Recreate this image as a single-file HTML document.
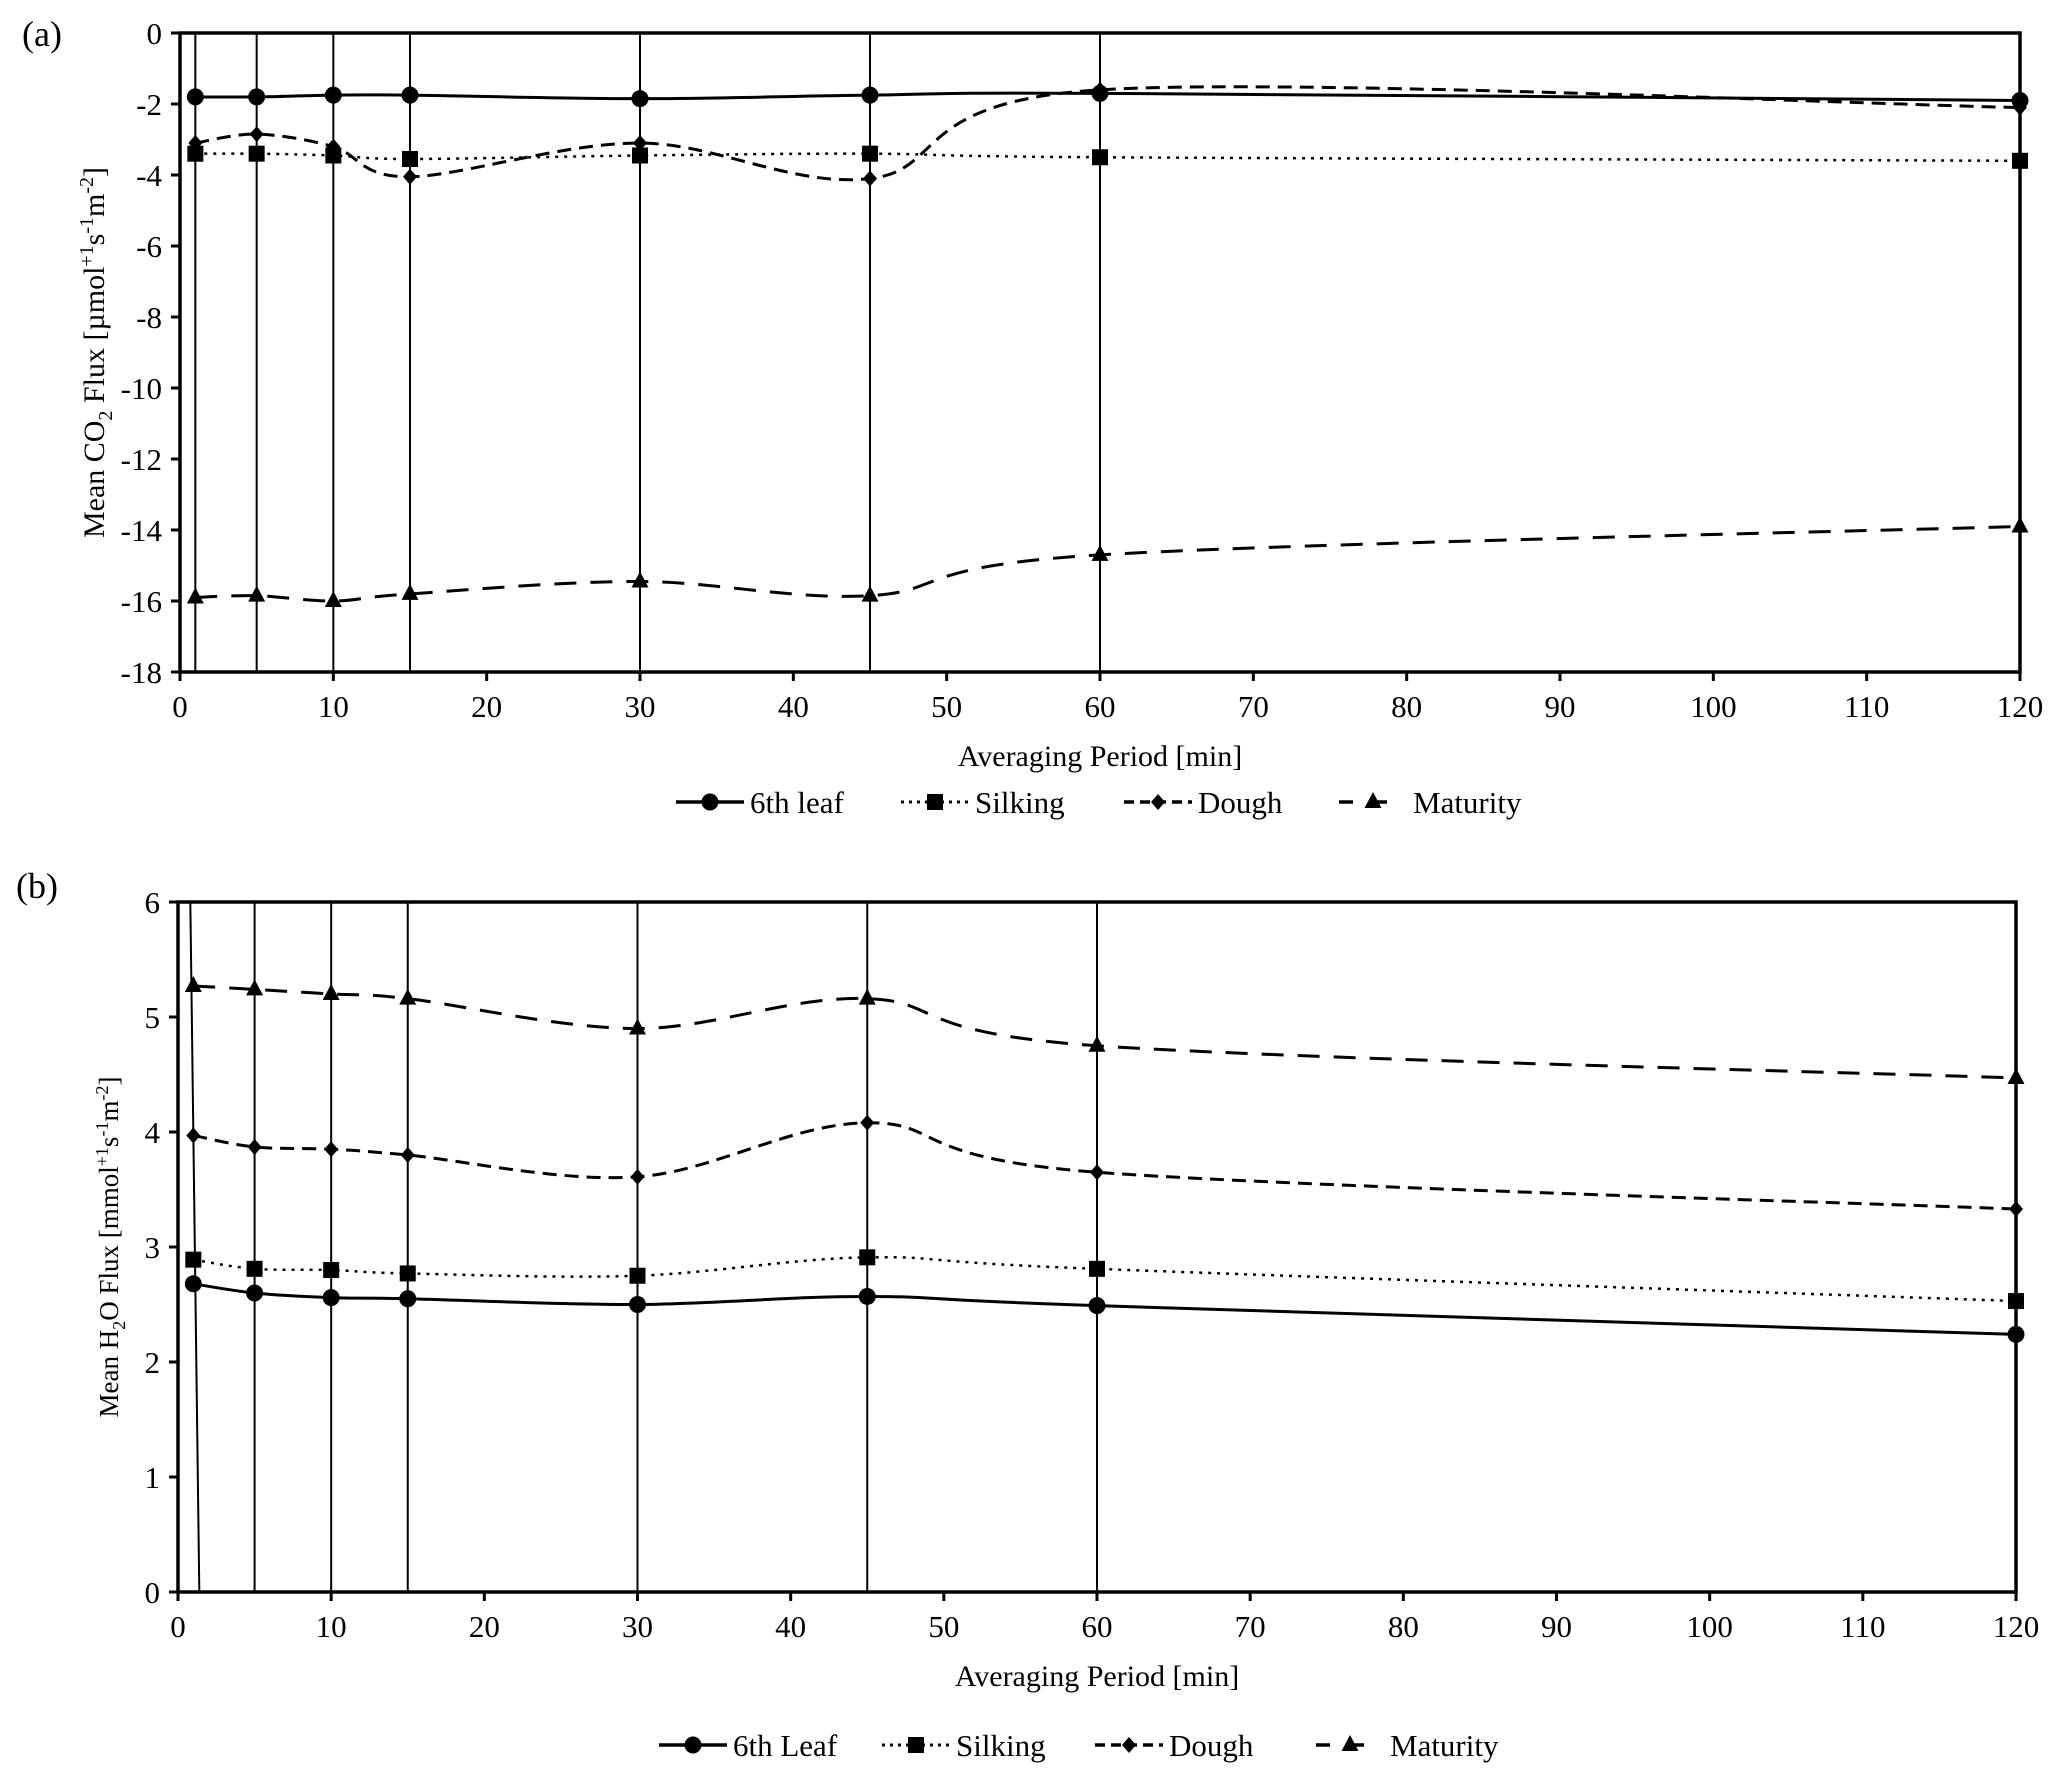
<!DOCTYPE html>
<html><head><meta charset="utf-8">
<style>
html,body{margin:0;padding:0;background:#fff;}
svg{display:block;font-family:"Liberation Serif",serif;}
</style></head>
<body>
<svg id="fig" width="2067" height="1783" viewBox="0 0 2067 1783" xmlns="http://www.w3.org/2000/svg">
<text x="22" y="46" font-size="36">(a)</text>
<text x="16" y="898" font-size="36">(b)</text>
<g id="ga"></g>
<g id="gb"></g>
</svg>
<script>
const periods = [1,5,10,15,30,45,60,120];
const seriesNames = ["6th leaf","Silking","Dough","Maturity"];
const seriesNamesB = ["6th Leaf","Silking","Dough","Maturity"];
const co2Leaf = [-1.8,-1.8,-1.75,-1.75,-1.85,-1.75,-1.7,-1.9];
const co2Silking = [-3.4,-3.4,-3.45,-3.55,-3.45,-3.4,-3.5,-3.6];
const co2Dough = [-3.1,-2.85,-3.2,-4.05,-3.1,-4.1,-1.6,-2.1];
const co2Maturity = [-15.9,-15.85,-16.0,-15.8,-15.45,-15.85,-14.7,-13.9];
const h2oLeaf = [2.68,2.6,2.56,2.55,2.5,2.57,2.49,2.24];
const h2oSilking = [2.89,2.81,2.8,2.77,2.75,2.91,2.81,2.53];
const h2oDough = [3.97,3.87,3.85,3.8,3.61,4.08,3.65,3.33];
const h2oMaturity = [5.27,5.24,5.2,5.16,4.9,5.16,4.75,4.47];
const xTicks = [0,10,20,30,40,50,60,70,80,90,100,110,120];
const yTicksA = [0,-2,-4,-6,-8,-10,-12,-14,-16,-18];
const yTicksB = [0,1,2,3,4,5,6];
const errBarX = [1,5,10,15,30,45,60];

const NS="http://www.w3.org/2000/svg";
function mk(tag,attrs,parent){const e=document.createElementNS(NS,tag);for(const k in attrs)e.setAttribute(k,attrs[k]);parent.appendChild(e);return e;}
const styles=[{dash:"none",w:3,m:"circle"},{dash:"3 6",w:2.5,m:"square"},{dash:"14 8",w:3,m:"diamond"},{dash:"22 14",w:3,m:"triangle"}];
function marker(g,m,x,y,s){
  let e;
  if(m==="circle") e=mk("circle",{cx:x,cy:y,r:s*0.85,fill:"#000"},g);
  else if(m==="square") e=mk("rect",{x:x-s*0.8,y:y-s*0.8,width:s*1.6,height:s*1.6,fill:"#000"},g);
  else if(m==="diamond") e=mk("polygon",{points:`${x},${y-s*0.8} ${x+s*0.7},${y} ${x},${y+s*0.8} ${x-s*0.7},${y}`,fill:"#000"},g);
  else e=mk("polygon",{points:`${x},${y-s} ${x+s*0.85},${y+s*0.6} ${x-s*0.85},${y+s*0.6}`,fill:"#000"},g);
  return e;
}
function spline(pts){
  let d=`M${pts[0][0]},${pts[0][1]}`;
  for(let i=0;i<pts.length-1;i++){
    const p0=pts[Math.max(0,i-1)],p1=pts[i],p2=pts[i+1],p3=pts[Math.min(pts.length-1,i+2)];
    const t=0.5/3;
    const c1=[p1[0]+(p2[0]-p0[0])*t,p1[1]+(p2[1]-p0[1])*t];
    const c2=[p2[0]-(p3[0]-p1[0])*t,p2[1]-(p3[1]-p1[1])*t];
    d+=` C${c1[0]},${c1[1]} ${c2[0]},${c2[1]} ${p2[0]},${p2[1]}`;
  }
  return d;
}
function chart(g,cfg){
  const X=v=>cfg.x0+(v-0)/120*(cfg.x1-cfg.x0);
  const Y=v=>cfg.yTop+(cfg.ymax-v)/(cfg.ymax-cfg.ymin)*(cfg.yBot-cfg.yTop);
  errBarX.forEach((v,i)=>{
    const xt=X(v)+(cfg.slant&&i===0?-3:0), xb=X(v)+(cfg.slant&&i===0?6:0);
    const l=mk("line",{x1:xt,y1:cfg.yTop,x2:xb,y2:cfg.yBot,stroke:"#000","stroke-width":2},g);
    
    
  });
  const f=mk("rect",{x:cfg.x0,y:cfg.yTop,width:cfg.x1-cfg.x0,height:cfg.yBot-cfg.yTop,fill:"none",stroke:"#000","stroke-width":3.5},g);
  
  
  xTicks.forEach(v=>{
    mk("line",{x1:X(v),y1:cfg.yBot,x2:X(v),y2:cfg.yBot+9,stroke:"#000","stroke-width":3},g);
    const t=mk("text",{x:X(v),y:cfg.yBot+45,"font-size":31,"text-anchor":"middle"},g);
    t.textContent=v;
    
    
  });
  cfg.yTicks.forEach(v=>{
    mk("line",{x1:cfg.x0-9,y1:Y(v),x2:cfg.x0,y2:Y(v),stroke:"#000","stroke-width":3},g);
    const t=mk("text",{x:cfg.x0-18,y:Y(v)+11,"font-size":31,"text-anchor":"end"},g);
    t.textContent=v;
    
    
  });
  const xt=mk("text",{x:(cfg.x0+cfg.x1)/2,y:cfg.yBot+94,"font-size":30,"text-anchor":"middle"},g);
  xt.textContent="Averaging Period [min]";
  
  
  const yt=mk("text",{x:0,y:0,"font-size":cfg.ytSize,"text-anchor":"middle",transform:`translate(${cfg.ytX},${(cfg.yTop+cfg.yBot)/2}) rotate(-90)`},g);
  yt.innerHTML=cfg.ytHtml;
  
  
  cfg.series.forEach((s,i)=>{
    const st=styles[i];
    const pts=periods.map((p,j)=>[X(p),Y(s[j])]);
    const p=mk("path",{d:spline(pts),fill:"none",stroke:"#000","stroke-width":st.w,"stroke-dasharray":st.dash},g);
    
    
    pts.forEach(q=>{
      const m=marker(g,st.m,q[0],q[1],10);
      
      
    });
  });
  cfg.legend.forEach((L,i)=>{
    const st=styles[i];
    const lg=mk("g",{},g);
    
    
    mk("line",{x1:L[0],y1:cfg.legY,x2:L[0]+68,y2:cfg.legY,stroke:"#000","stroke-width":st.w+0.5,"stroke-dasharray":st.dash==="none"?"none":(i===1?"3 5":(i===2?"10 6":"14 20"))},lg);
    marker(lg,st.m,L[0]+34,cfg.legY,10);
    const t=mk("text",{x:L[0]+74,y:cfg.legY+11,"font-size":31},lg);
    t.textContent=cfg.names[i];
  });
}
chart(document.getElementById('ga'),{x0:180,x1:2020,yTop:33,yBot:672,ymin:-18,ymax:0,yTicks:yTicksA,
  series:[co2Leaf,co2Silking,co2Dough,co2Maturity],names:seriesNames,ytX:104,ytSize:30,
  ytHtml:'Mean CO<tspan font-size="20" dy="8">2</tspan><tspan dy="-8"> Flux [µmol</tspan><tspan font-size="20" dy="-11">+1</tspan><tspan dy="11">s</tspan><tspan font-size="20" dy="-11">-1</tspan><tspan dy="11">m</tspan><tspan font-size="20" dy="-11">-2</tspan><tspan dy="11">]</tspan>',
  legY:802,legend:[[676],[901],[1124],[1339]],slant:false});
chart(document.getElementById('gb'),{x0:178,x1:2016,yTop:902,yBot:1592,ymin:0,ymax:6,yTicks:yTicksB,
  series:[h2oLeaf,h2oSilking,h2oDough,h2oMaturity],names:seriesNamesB,ytX:118,ytSize:27,
  ytHtml:'Mean H<tspan font-size="18" dy="7">2</tspan><tspan dy="-7">O Flux [mmol</tspan><tspan font-size="18" dy="-10">+1</tspan><tspan dy="10">s</tspan><tspan font-size="18" dy="-10">-1</tspan><tspan dy="10">m</tspan><tspan font-size="18" dy="-10">-2</tspan><tspan dy="10">]</tspan>',
  legY:1745,legend:[[659],[882],[1095],[1316]],slant:true});
</script>
</body></html>
